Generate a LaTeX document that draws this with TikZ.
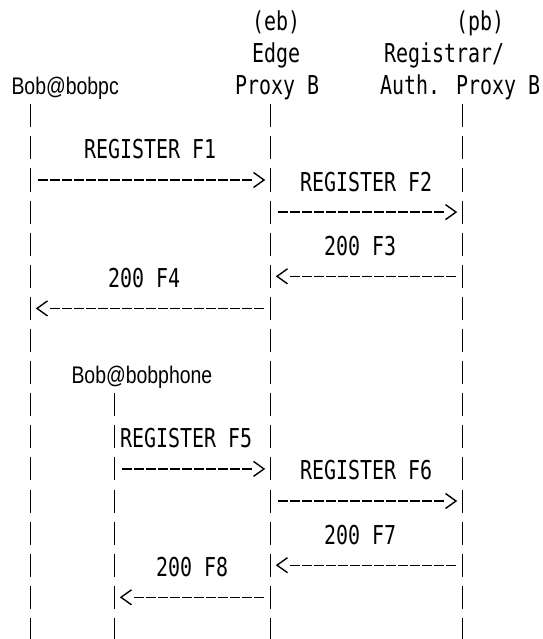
\documentclass[tikz,border=0pt]{standalone}
\usepackage{fontspec}
\newfontfamily\asciifont[FakeStretch=0.767]{DejaVu Sans Mono}
\newfontfamily\mailfont[FakeStretch=0.81]{Liberation Sans}
\usetikzlibrary{decorations.markings}
\begin{document}
\begin{tikzpicture}[x=1pt,y=-1pt,
  lifeline/.style={line width=1.9pt, dash pattern=on 23pt off 9.1pt},
  msg/.style={line width=1.4pt, dash pattern=on 10pt off 2pt, postaction={decorate},
    decoration={markings, mark=at position 1 with {\draw[solid,line width=1.4pt,line join=miter] (2pt,7.5pt) -- (12.5pt,0pt) -- (2pt,-7.5pt);}}},
  txt/.style={anchor=base west, inner sep=0pt, outer sep=0pt, font=\fontsize{26}{30}\selectfont\asciifont},
  mail/.style={anchor=base west, inner sep=0pt, outer sep=0pt, font=\fontsize{24}{28}\selectfont\mailfont}]
\fill[white] (0,0) rectangle (542,639);
\useasboundingbox (0,0) rectangle (542,639);

% participants
\node[txt]  (ebA) at (252,30.5) {(eb)};
\node[txt]  (ebB) at (252,62.6) {Edge};
\node[txt]  (ebC) at (235,94.7) {Proxy B};
\node[txt]  (pbA) at (456,30.5) {(pb)};
\node[txt]  (pbB) at (384,62.6) {Registrar/};
\node[txt]  (pbC) at (380,94.7) {Auth. Proxy B};
\node[mail] (pc)  at (11.5,94.7) {Bob@bobpc};
\node[mail] (ph)  at (71.5,383.6) {Bob@bobphone};

% lifelines
\coordinate (pcTop) at (30.5,104.3);  \coordinate (pcBot) at (30.5,639);
\coordinate (ebTop) at (270.5,104.3); \coordinate (ebBot) at (270.5,639);
\coordinate (pbTop) at (462.5,104.3); \coordinate (pbBot) at (462.5,639);
\coordinate (phTop) at (114.5,393.2); \coordinate (phBot) at (114.5,639);
\draw[lifeline] (pcTop) -- (pcBot);
\draw[lifeline] (ebTop) -- (ebBot);
\draw[lifeline] (pbTop) -- (pbBot);
\draw[lifeline] (phTop) -- (phBot);

% message end points
\coordinate (f1s) at (37.5,180.0);  \coordinate (f1e) at (251.5,180.0);
\coordinate (f2s) at (277.5,212.1); \coordinate (f2e) at (443.5,212.1);
\coordinate (f3s) at (455.5,276.3); \coordinate (f3e) at (289.5,276.3);
\coordinate (f4s) at (263.5,308.4); \coordinate (f4e) at (49.5,308.4);
\coordinate (f5s) at (121.5,468.9); \coordinate (f5e) at (251.5,468.9);
\coordinate (f6s) at (277.5,501.0); \coordinate (f6e) at (443.5,501.0);
\coordinate (f7s) at (455.5,565.2); \coordinate (f7e) at (289.5,565.2);
\coordinate (f8s) at (263.5,597.3); \coordinate (f8e) at (133.5,597.3);

\draw[msg] (f1s) -- (f1e);
\draw[msg] (f2s) -- (f2e);
\draw[msg] (f3s) -- (f3e);
\draw[msg] (f4s) -- (f4e);
\draw[msg] (f5s) -- (f5e);
\draw[msg] (f6s) -- (f6e);
\draw[msg] (f7s) -- (f7e);
\draw[msg] (f8s) -- (f8e);

% message labels
\node[txt] (l1) at (84,158.9)  {REGISTER F1};
\node[txt] (l2) at (300,191.0) {REGISTER F2};
\node[txt] (l3) at (324,255.2) {200 F3};
\node[txt] (l4) at (108,287.3) {200 F4};
\node[txt] (l5) at (120,447.8) {REGISTER F5};
\node[txt] (l6) at (300,479.9) {REGISTER F6};
\node[txt] (l7) at (324,544.1) {200 F7};
\node[txt] (l8) at (156,576.2) {200 F8};
\end{tikzpicture}
\end{document}
